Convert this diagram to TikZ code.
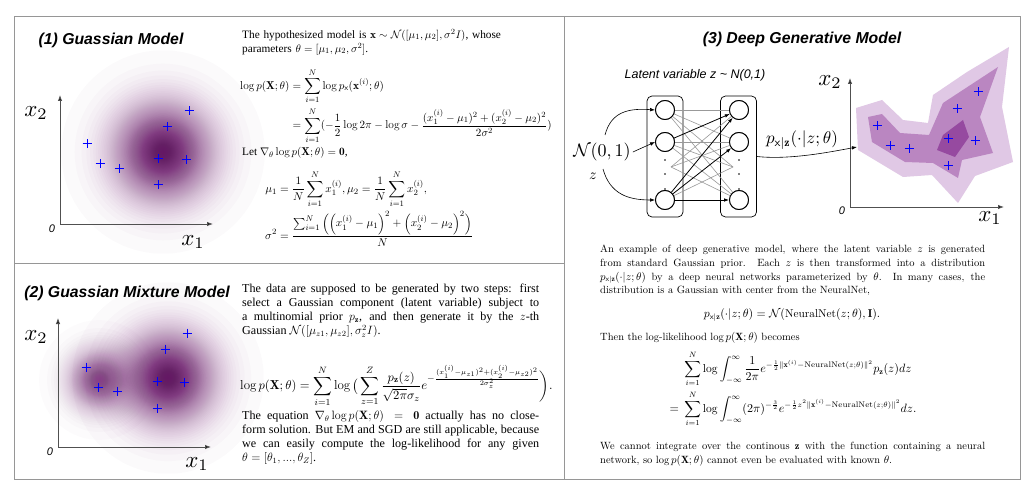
\documentclass[tikz,border=0pt]{standalone}
\usepackage{amsmath,amssymb}
\usepackage{fontspec}
\newfontfamily\tnr{Liberation Serif}
\newfontfamily\hel{Liberation Sans}
\usetikzlibrary{arrows.meta}
\definecolor{gpurple}{RGB}{100,10,100}
\definecolor{pA}{RGB}{224,200,229}
\definecolor{pB}{RGB}{186,134,193}
\definecolor{pC}{RGB}{150,74,160}
\definecolor{framegray}{RGB}{150,150,150}
\definecolor{axgray}{RGB}{80,80,80}
\definecolor{crossblue}{RGB}{0,0,255}
\newcommand\gblob[4]{%
  \foreach \k in {1,...,100}{%
    \pgfmathsetmacro\rr{#3*sqrt(max(2*ln(0.8674/(1-0.98^(\k-0.5))),0.002))}%
    \fill[#4, fill opacity=0.02] (#1,#2) circle[radius=\rr];}}
\tikzset{
  frame/.style={draw=framegray, line width=0.9pt},
  axis/.style={draw=axgray, line width=0.9pt, -{Latex[length=6pt,width=4.5pt,fill=black]}},
  crs/.pic={\draw[crossblue, line width=1pt] (-4.5,0)--(4.5,0) (0,-4.5)--(0,4.5);},
  axlab/.style={scale=2.3, inner sep=0pt},
  zerolab/.style={font=\hel\itshape\fontsize{11}{12}\selectfont, inner sep=0pt},
  ttl/.style={font=\hel\bfseries\itshape\fontsize{15.8}{18}\selectfont, inner sep=0pt},
  tnrtext/.style={font=\tnr\fontsize{11.3}{14}\selectfont, inner sep=0pt},
  tnrtextb/.style={font=\tnr\fontsize{12.1}{14}\selectfont, inner sep=0pt},
  lmtext/.style={font=\fontsize{10.5}{13.7}\selectfont, inner sep=0pt},
  neuron/.style={circle, draw, line width=0.9pt, minimum size=19pt, inner sep=0pt, fill=white},
  nnbox/.style={draw, line width=0.7pt, rounded corners=5pt, minimum width=36pt, minimum height=121pt, inner sep=0pt},
  gline/.style={draw=gray!80, line width=0.6pt},
  barrow/.style={draw=black, line width=0.8pt, -{Latex[length=5pt,width=3.6pt]}},
  inarrow/.style={draw=black, line width=0.6pt, -{Latex[length=5pt,width=3.6pt]}},
  ddot/.style={circle, fill=black, inner sep=0pt, minimum size=1.6pt}
}
\begin{document}
\begin{tikzpicture}[x=1pt,y=-1pt]
\useasboundingbox (0,0) rectangle (1034,497);
\fill[white] (0,0) rectangle (1034,497);

% ---------- Panel 1 ----------
\gblob{163}{152}{34}{gpurple}
\node[ttl] (title1) at (111,40) {(1) Guassian Model};
\coordinate (o1) at (60,224);
\coordinate (y1) at (60,95);
\coordinate (x1) at (213,224);
\draw[axis] (o1) -- (y1);
\draw[axis] (o1) -- (x1);
\node[axlab] (lx2a) at (36,113) {$x_2$};
\node[axlab] (lx1a) at (193,242) {$x_1$};
\node[zerolab] (lz1) at (52,229) {0};
\foreach \p in {(87,144),(100,164),(119,169),(158,159),(167,127),(189,111),(186,160),(158,185)}
  \pic at \p {crs};

\node[tnrtext, anchor=north west, text width=320pt, align=left] (t1) at (242,29)
  {The hypothesized model is $\mathbf{x}\sim\mathcal{N}([\mu_1,\mu_2],\sigma^2I)$, whose\\ parameters $\theta=[\mu_1,\mu_2,\sigma^2]$.};
\node[tnrtext, anchor=west, scale=1.01] (e1) at (240,106)
  {$\displaystyle\begin{aligned}\log p(\mathbf{X};\theta)&=\sum_{i=1}^N\log p_{\mathsf{x}}(\mathbf{x}^{(i)};\theta)\\&=\sum_{i=1}^N(-\frac12\log2\pi-\log\sigma-\frac{(x_1^{(i)}-\mu_1)^2+(x_2^{(i)}-\mu_2)^2}{2\sigma^2})\end{aligned}$};
\node[tnrtext, anchor=west] (t2) at (242,153)
  {Let $\nabla_\theta\log p(\mathbf{X};\theta)=\mathbf{0}$,};
\node[tnrtext, anchor=west, scale=1.03] (e2) at (265,209)
  {$\displaystyle\begin{aligned}\mu_1&=\frac1N\sum_{i=1}^N x_1^{(i)},\mu_2=\frac1N\sum_{i=1}^N x_2^{(i)},\\ \sigma^2&=\frac{\sum_{i=1}^N\Big(\Big(x_1^{(i)}-\mu_1\Big)^2+\Big(x_2^{(i)}-\mu_2\Big)^2\Big)}{N}\end{aligned}$};

% ---------- Panel 2 ----------
\gblob{99}{380}{20}{gpurple!75!white}
\gblob{168}{378}{32}{gpurple}
\node[ttl] (title2) at (127,293) {(2) Guassian Mixture Model};
\coordinate (o2) at (58,447);
\coordinate (y2) at (58,318);
\coordinate (x2) at (211,447);
\draw[axis] (o2) -- (y2);
\draw[axis] (o2) -- (x2);
\node[axlab] (lx2b) at (36,337) {$x_2$};
\node[axlab] (lx1b) at (197,464) {$x_1$};
\node[zerolab] (lz2) at (50,452) {0};
\foreach \p in {(86,367),(98,387),(117,391),(157,381),(165,349),(187,333),(184,382),(157,408)}
  \pic at \p {crs};

\node[tnrtextb, anchor=north west, text width=297pt, align=justify] (t3) at (242,284)
  {The data are supposed to be generated by two steps: first\linebreak select a Gaussian component (latent variable) subject to\linebreak a multinomial prior $p_{\mathbf{z}}$, and then generate it by the $z$-th\linebreak Gaussian $\mathcal{N}([\mu_{z1},\mu_{z2}],\sigma_z^2I)$.};
\node[tnrtext, anchor=west, scale=1.15] (e3) at (240,386)
  {$\displaystyle\log p(\mathbf{X};\theta)=\sum_{i=1}^N\log\big(\sum_{z=1}^Z\frac{p_{\mathbf{z}}(z)}{\sqrt{2\pi}\sigma_z}e^{-\frac{(x_1^{(i)}-\mu_{z1})^2+(x_2^{(i)}-\mu_{z2})^2}{2\sigma_z^2}}\bigg).$};
\node[tnrtextb, anchor=north west, text width=297pt, align=justify] (t4) at (242,410)
  {The equation $\nabla_\theta\log p(\mathbf{X};\theta)=\mathbf{0}$ actually has no close-\linebreak form solution. But EM and SGD are still applicable, because\linebreak we can easily compute the log-likelihood for any given\linebreak $\theta=[\theta_1,...,\theta_Z]$.};

% ---------- Panel 3 ----------
\node[ttl] (title3) at (802,39) {(3) Deep Generative Model};
\node[font=\hel\itshape\fontsize{12.5}{14}\selectfont, inner sep=0pt] (lat) at (695,75) {Latent variable z \textasciitilde{} N(0,1)};

\node[nnbox] (lbox) at (665,156.5) {};
\node[nnbox] (rbox) at (738.5,156.5) {};
\coordinate (ld) at (671,167);
\coordinate (rd) at (733,167);
\node[neuron] (l1) at (665,110) {};
\node[neuron] (l2) at (665,142) {};
\node[neuron] (l3) at (665,200) {};
\node[neuron] (r1) at (739,110) {};
\node[neuron] (r2) at (739,142) {};
\node[neuron] (r3) at (739,200) {};
\foreach \a/\b in {l1/r1,l1/r2,l1/r3,l2/r2,l2/r3,l3/rd}
  \draw[gline] (\a) -- (\b);
\foreach \b in {r1,r2,r3}
  \draw[gline] (ld) -- (\b);
\draw[gline] (l1) -- (rd);
\draw[gline] (l2) -- (rd);
\draw[barrow] (l2) -- (r1);
\draw[barrow] (l3) -- (r1);
\draw[barrow] (l3) -- (r2);
\draw[barrow] (l3) -- (r3);
\foreach \n in {l1,l2,l3,r1,r2,r3}
  \node[neuron] at (\n) {};
\foreach \yy in {160,174,189} {
  \node[ddot] at (665,\yy) {};
  \node[ddot] at (739,\yy) {};
}

\node[scale=1.8, inner sep=1pt] (nN) at (602,152) {$\mathcal{N}(0,1)$};
\node[scale=1.5, inner sep=0pt] (zz) at (593,176) {$z$};
\coordinate (nt) at (605,135);
\coordinate (nb) at (603,169);
\draw[inarrow] (nt) .. controls (611,112) and (628,108) .. (l1.west);
\draw[inarrow] (nN.east) -- (l2.west);
\draw[inarrow] (nb) .. controls (610,194) and (628,200) .. (l3.west);

% plot
\fill[pA] (856,108) -- (882,100) -- (903,120) -- (928,123) -- (933,95) -- (967,72) -- (1009,47) -- (1002,107) -- (1013,162) -- (975,176) -- (958,203) -- (932,175) -- (903,177) -- (858,150) -- cycle;
\fill[pB] (868,117) -- (882,114) -- (900,133) -- (929,135) -- (943,103) -- (998,67) -- (980,117) -- (993,153) -- (962,160) -- (958,178) -- (933,163) -- (905,162) -- (872,142) -- cycle;
\fill[pC] (937,150) -- (943,135) -- (963,120) -- (969,137) -- (955,157) -- cycle;
\coordinate (o3) at (850,207);
\coordinate (y3) at (850,78);
\coordinate (x3) at (1004,207);
\draw[axis] (o3) -- (y3);
\draw[axis] (o3) -- (x3);
\node[axlab] (lx2c) at (830,82) {$x_2$};
\node[axlab] (lx1c) at (990,218) {$x_1$};
\node[zerolab] (lz3) at (842,211) {0};
\foreach \p in {(877,126),(890,146),(909,149),(948,139),(957,109),(978,92),(975,141),(948,166)}
  \pic at \p {crs};
\coordinate (tgt) at (857,147);
\draw[inarrow] (rbox.east) .. controls (790,160) and (830,152) .. (tgt);
\node[scale=1.7, inner sep=0pt] (plab) at (802,140) {$p_{\mathsf{x}|\mathbf{z}}(\cdot|z;\theta)$};

\node[lmtext, anchor=north west, text width=385pt, align=justify] (t5) at (600,245)
  {An example of deep generative model, where the latent variable $z$ is generated\linebreak from standard Gaussian prior. Each $z$ is then transformed into a distribution\linebreak $p_{\mathsf{x}|\mathbf{z}}(\cdot|z;\theta)$ by a deep neural networks parameterized by $\theta$. In many cases, the\linebreak distribution is a Gaussian with center from the NeuralNet,};
\node[lmtext, scale=1.08] (e4) at (792,315) {$p_{\mathsf{x}|\mathbf{z}}(\cdot|z;\theta)=\mathcal{N}(\mathrm{NeuralNet}(z;\theta),\mathbf{I}).$};
\node[lmtext, anchor=west] (t6) at (600,338) {Then the log-likelihood $\log p(\mathbf{X};\theta)$ becomes};
\node[lmtext, scale=1.1] (e5) at (793,389)
  {$\displaystyle\begin{aligned}&\sum_{i=1}^N\log\int_{-\infty}^{\infty}\frac{1}{2\pi}e^{-\frac12\|\mathbf{x}^{(i)}-\mathrm{NeuralNet}(z;\theta)\|^2}p_{\mathbf{z}}(z)dz\\ ={}&\sum_{i=1}^N\log\int_{-\infty}^{\infty}(2\pi)^{-\frac32}e^{-\frac12z^2\|\mathbf{x}^{(i)}-\mathrm{NeuralNet}(z;\theta)\|^2}dz.\end{aligned}$};
\node[lmtext, anchor=north west, text width=385pt, align=justify] (t7) at (600,442)
  {We cannot integrate over the continous $\mathbf{z}$ with the function containing a neural\linebreak network, so $\log p(\mathbf{X};\theta)$ cannot even be evaluated with known $\theta$.};

% ---------- frames ----------
\draw[frame] (14,16) rectangle (1020,479);
\draw[frame] (564,16) -- (564,479);
\draw[frame] (14,263) -- (564,263);
\end{tikzpicture}
\end{document}
